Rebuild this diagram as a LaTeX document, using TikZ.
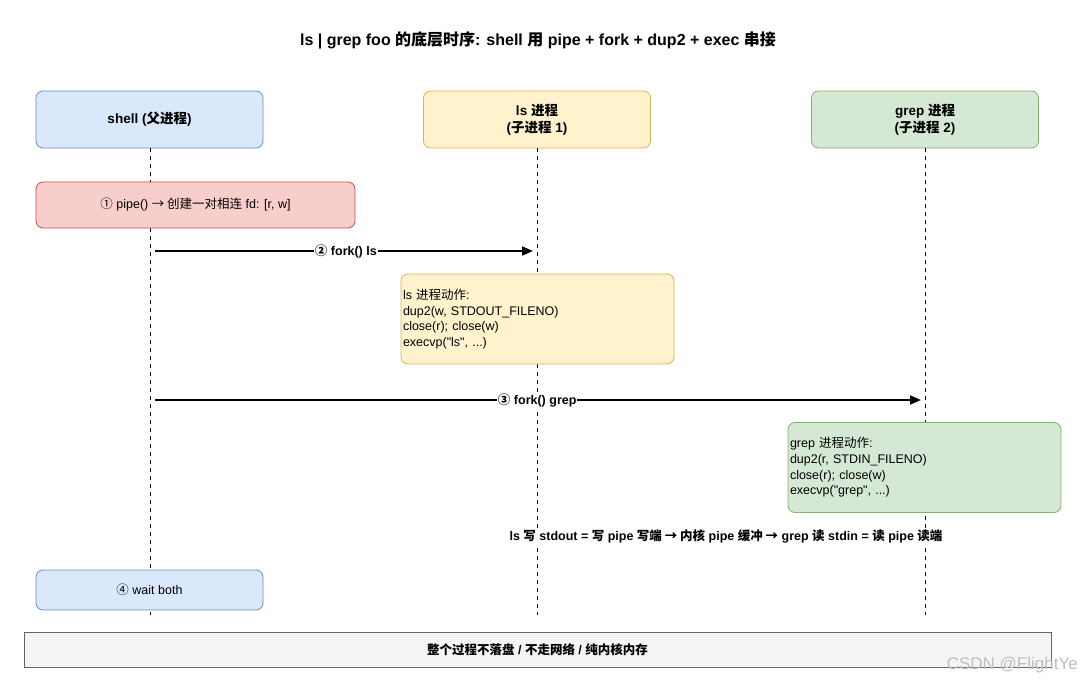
\documentclass[tikz,border=0pt]{standalone}
\usepackage{fontspec}
\setmainfont{Liberation Sans}
\newfontfamily\rawf{Liberation Sans}
\newfontfamily\cjk{Noto Sans CJK SC}
\newcommand{\zh}[1]{{\cjk #1}}
\newcommand{\dq}{{\rawf"}}
\usetikzlibrary{arrows.meta}
\definecolor{bluef}{HTML}{DAE8FC}\definecolor{blued}{HTML}{6C8EBF}
\definecolor{yelf}{HTML}{FFF2CC}\definecolor{yeld}{HTML}{D6B656}
\definecolor{grnf}{HTML}{D5E8D4}\definecolor{grnd}{HTML}{82B366}
\definecolor{redf}{HTML}{F8CECC}\definecolor{redd}{HTML}{B85450}
\definecolor{grayf}{HTML}{F5F5F5}\definecolor{grayd}{HTML}{666666}
\tikzset{
  box/.style={draw, rounded corners=7pt, line width=0.8pt, inner sep=2pt, font=\fontsize{12.5}{15.7}\selectfont},
  head/.style={box, minimum width=227pt, minimum height=57pt, align=center, font=\fontsize{13.5}{16.5}\selectfont\bfseries},
  actbox/.style={box, text width=269pt, minimum height=90pt, align=left},
  life/.style={draw, line width=0.8pt, dash pattern=on 4pt off 4pt},
  msg/.style={draw, line width=1.7pt, -{Triangle[length=11pt,width=9pt]}},
  msglab/.style={fill=white, inner sep=1pt, font=\fontsize{12.5}{15}\selectfont\bfseries},
}
\begin{document}
\begin{tikzpicture}[x=1pt,y=-1pt]
\path[use as bounding box, fill=white] (0,0) rectangle (1080,685);
% title
\node[font=\fontsize{16}{19}\selectfont\bfseries] (title) at (538,40) {ls | grep foo \zh{的底层时序}: shell \zh{用} pipe + fork + dup2 + exec \zh{串接}};
% headers
\node[head, fill=bluef, draw=blued] (sh) at (149.5,119.5) {shell (\zh{父进程})};
\node[head, fill=yelf, draw=yeld] (ls) at (537,119.5) {ls \zh{进程}\\(\zh{子进程} 1)};
\node[head, fill=grnf, draw=grnd] (gr) at (925,119.5) {grep \zh{进程}\\(\zh{子进程} 2)};
% lifeline ends
\coordinate (shE) at (150,615);
\coordinate (lsE) at (537,615);
\coordinate (grE) at (925,615);
\draw[life] (sh.south -| shE) -- (shE);
\draw[life] (ls.south -| lsE) -- (lsE);
\draw[life] (gr.south -| grE) -- (grE);
% pipe
\node[box, fill=redf, draw=redd, minimum width=319pt, minimum height=46pt] (pipe) at (195.5,205) {\zh{①} pipe() \zh{→ 创建一对相连} fd: [r, w]};
% fork ls
\coordinate (f1s) at (155,251);
\coordinate (f1e) at (533,251);
\draw[msg] (f1s) -- (f1e) node[msglab, pos=0.505] (f1l) {\zh{②} fork() ls};
% ls action
\node[actbox, fill=yelf, draw=yeld] (lsact) at (537.5,319) {ls \zh{进程动作}:\\dup2(w, STDOUT\_FILENO)\\close(r); close(w)\\execvp(\dq ls\dq, ...)};
% fork grep
\coordinate (f2s) at (155,400);
\coordinate (f2e) at (921,400);
\draw[msg] (f2s) -- (f2e) node[msglab, pos=0.499] (f2l) {\zh{③} fork() grep};
% grep action
\node[actbox, fill=grnf, draw=grnd] (gract) at (924.5,467.5) {grep \zh{进程动作}:\\dup2(r, STDIN\_FILENO)\\close(r); close(w)\\execvp(\dq grep\dq, ...)};
% data flow note
\node[font=\fontsize{12.5}{15}\selectfont\bfseries, fill=white, inner sep=1pt] (flow) at (726,536) {ls \zh{写} stdout = \zh{写} pipe \zh{写端 → 内核} pipe \zh{缓冲 →} grep \zh{读} stdin = \zh{读} pipe \zh{读端}};
% wait
\node[box, fill=bluef, draw=blued, minimum width=227pt, minimum height=40pt] (wait) at (149.5,590) {\zh{④} wait both};
% bottom
\node[draw=grayd, fill=grayf, line width=0.8pt, minimum width=1027pt, minimum height=35pt, font=\fontsize{12.5}{15}\selectfont\bfseries] (note) at (537.5,649.5) {\zh{整个过程不落盘} / \zh{不走网络} / \zh{纯内核内存}};
% watermark
\node[text=black!25, font=\fontsize{17}{19}\selectfont, anchor=east, inner sep=1pt] (wm) at (1079,665) {CSDN @FlightYe};
\end{tikzpicture}
\end{document}
